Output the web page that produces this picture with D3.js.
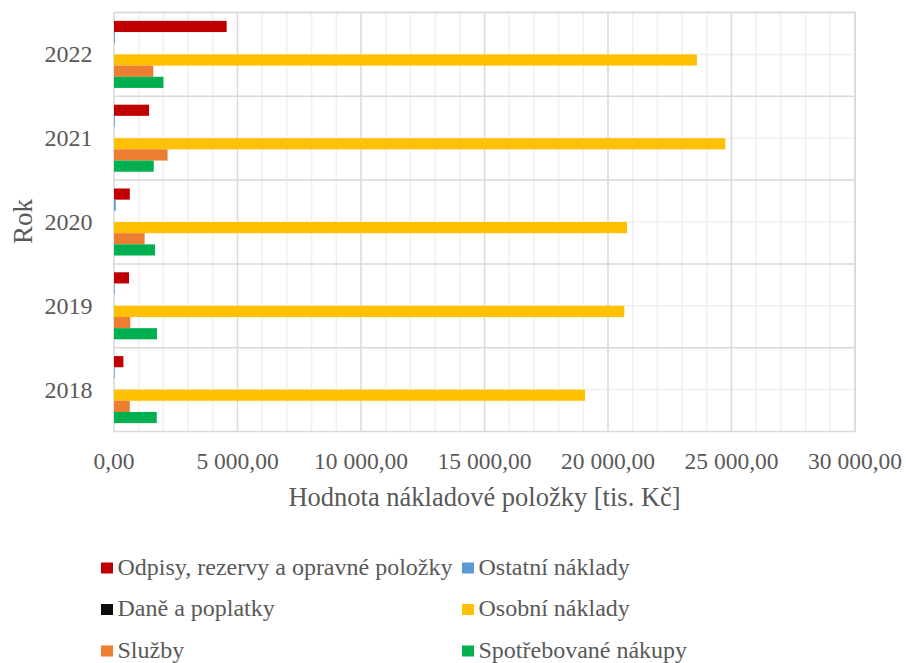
<!DOCTYPE html>
<html>
<head>
<meta charset="utf-8">
<script src="https://cdn.jsdelivr.net/npm/d3@7/dist/d3.min.js"></script>
<style>
  body { margin: 0; background: #fff; }
</style>
</head>
<body>
<div id="chart"></div>
<script>
// categories (bottom to top in the chart)
var years = ["2018", "2019", "2020", "2021", "2022"];

// series names, drawn top to bottom inside each year group
var series = [
  "Odpisy, rezervy a opravné položky",
  "Ostatní náklady",
  "Daně a poplatky",
  "Osobní náklady",
  "Služby",
  "Spotřebované nákupy"
];
var colors = ["#C00000", "#5B9BD5", "#0D0D0D", "#FFC000", "#ED7D31", "#00B050"];

// values per series, in tis. Kč, same order as years
var odpisy       = [380, 610, 640, 1420, 4560];
var ostatni      = [25, 25, 70, 30, 35];
var dane         = [0, 0, 0, 0, 0];
var osobni       = [19070, 20660, 20770, 24750, 23600];
var sluzby       = [640, 660, 1240, 2170, 1590];
var spotrebovane = [1730, 1740, 1660, 1610, 2000];

var xTicks = [0, 5000, 10000, 15000, 20000, 25000, 30000];

var values = [odpisy, ostatni, dane, osobni, sluzby, spotrebovane];

var width = 906, height = 663;
var margin = {top: 12.5, right: 51, bottom: 231.5, left: 114};
var fontFam = "'Liberation Serif', 'Times New Roman', Times, serif";
var textColor = "#595959";

var svg = d3.select("#chart").append("svg")
  .attr("width", width)
  .attr("height", height)
  .attr("font-family", fontFam);

var x = d3.scaleLinear()
  .domain([0, 30000])
  .range([margin.left, width - margin.right]);

// 2022 on top
var y0 = d3.scaleBand()
  .domain(years.slice().reverse())
  .range([margin.top, height - margin.bottom])
  .paddingInner(0)
  .paddingOuter(0);

var y1 = d3.scaleBand()
  .domain(series)
  .range([0, y0.bandwidth()])
  .paddingInner(0)
  .paddingOuter(0.75);

var cz = d3.formatLocale({decimal: ",", thousands: "\u00a0", grouping: [3], currency: ["", ""]});
var fmt = cz.format(",.2f");

// minor vertical gridlines every 1000
var minorX = d3.range(1000, 30000, 1000).filter(function(v){ return v % 5000 !== 0; });
svg.append("g").selectAll("line")
  .data(minorX).enter().append("line")
  .attr("x1", function(d){ return x(d); })
  .attr("x2", function(d){ return x(d); })
  .attr("y1", margin.top)
  .attr("y2", height - margin.bottom)
  .attr("stroke", "#f0f0f0")
  .attr("stroke-width", 1.5);

// minor horizontal gridlines at middle of each category
svg.append("g").selectAll("line")
  .data(years).enter().append("line")
  .attr("x1", margin.left)
  .attr("x2", width - margin.right)
  .attr("y1", function(d){ return y0(d) + y0.bandwidth() / 2; })
  .attr("y2", function(d){ return y0(d) + y0.bandwidth() / 2; })
  .attr("stroke", "#f0f0f0")
  .attr("stroke-width", 1.5);

// major vertical gridlines
svg.append("g").selectAll("line")
  .data(xTicks.slice(1)).enter().append("line")
  .attr("x1", function(d){ return x(d); })
  .attr("x2", function(d){ return x(d); })
  .attr("y1", margin.top)
  .attr("y2", height - margin.bottom)
  .attr("stroke", "#d9d9d9")
  .attr("stroke-width", 1.5);

// major horizontal gridlines at category boundaries
svg.append("g").selectAll("line")
  .data(years).enter().append("line")
  .attr("x1", margin.left)
  .attr("x2", width - margin.right)
  .attr("y1", function(d){ return y0(d); })
  .attr("y2", function(d){ return y0(d); })
  .attr("stroke", "#d9d9d9")
  .attr("stroke-width", 1.5);

// plot border
svg.append("rect")
  .attr("x", margin.left)
  .attr("y", margin.top)
  .attr("width", x(30000) - x(0))
  .attr("height", height - margin.bottom - margin.top)
  .attr("fill", "none")
  .attr("stroke", "#d9d9d9")
  .attr("stroke-width", 1.5);

// bars
var groups = svg.append("g").selectAll("g")
  .data(years).enter().append("g")
  .attr("transform", function(d){ return "translate(0," + y0(d) + ")"; });

groups.selectAll("rect")
  .data(function(d, i){
    return series.map(function(s, j){ return {name: s, value: values[j][i], color: colors[j]}; });
  })
  .enter().append("rect")
  .attr("x", x(0))
  .attr("y", function(d){ return y1(d.name); })
  .attr("width", function(d){ return x(d.value) - x(0); })
  .attr("height", y1.bandwidth())
  .attr("fill", function(d){ return d.color; });

// x axis labels
svg.append("g").selectAll("text")
  .data(xTicks).enter().append("text")
  .attr("x", function(d){ return x(d); })
  .attr("y", 469)
  .attr("text-anchor", "middle")
  .attr("fill", textColor)
  .style("font-size", "23.5px")
  .text(function(d){ return fmt(d); });

// y axis labels
svg.append("g").selectAll("text")
  .data(years).enter().append("text")
  .attr("x", 92.5)
  .attr("y", function(d){ return y0(d) + y0.bandwidth() / 2 + 8; })
  .attr("text-anchor", "end")
  .attr("fill", textColor)
  .style("font-size", "24px")
  .text(function(d){ return d; });

// axis titles
svg.append("text")
  .attr("x", (x(0) + x(30000)) / 2)
  .attr("y", 506)
  .attr("text-anchor", "middle")
  .attr("fill", textColor)
  .style("font-size", "26.5px")
  .text("Hodnota nákladové položky [tis. Kč]");

svg.append("text")
  .attr("transform", "translate(32,221.5) rotate(-90)")
  .attr("text-anchor", "middle")
  .attr("fill", textColor)
  .style("font-size", "27px")
  .text("Rok");

// legend
var legend = svg.append("g").selectAll("g")
  .data(series).enter().append("g")
  .attr("transform", function(d, i){
    var col = i % 2, row = Math.floor(i / 2);
    return "translate(" + (col === 0 ? 101 : 462) + "," + (574.5 + row * 41.5) + ")";
  });

legend.append("rect")
  .attr("x", 0)
  .attr("y", -12)
  .attr("width", 12)
  .attr("height", 11)
  .attr("fill", function(d, i){ return colors[i]; });

legend.append("text")
  .attr("x", 16.5)
  .attr("y", 0)
  .attr("fill", textColor)
  .style("font-size", "24px")
  .text(function(d){ return d; });
</script>
</body>
</html>
